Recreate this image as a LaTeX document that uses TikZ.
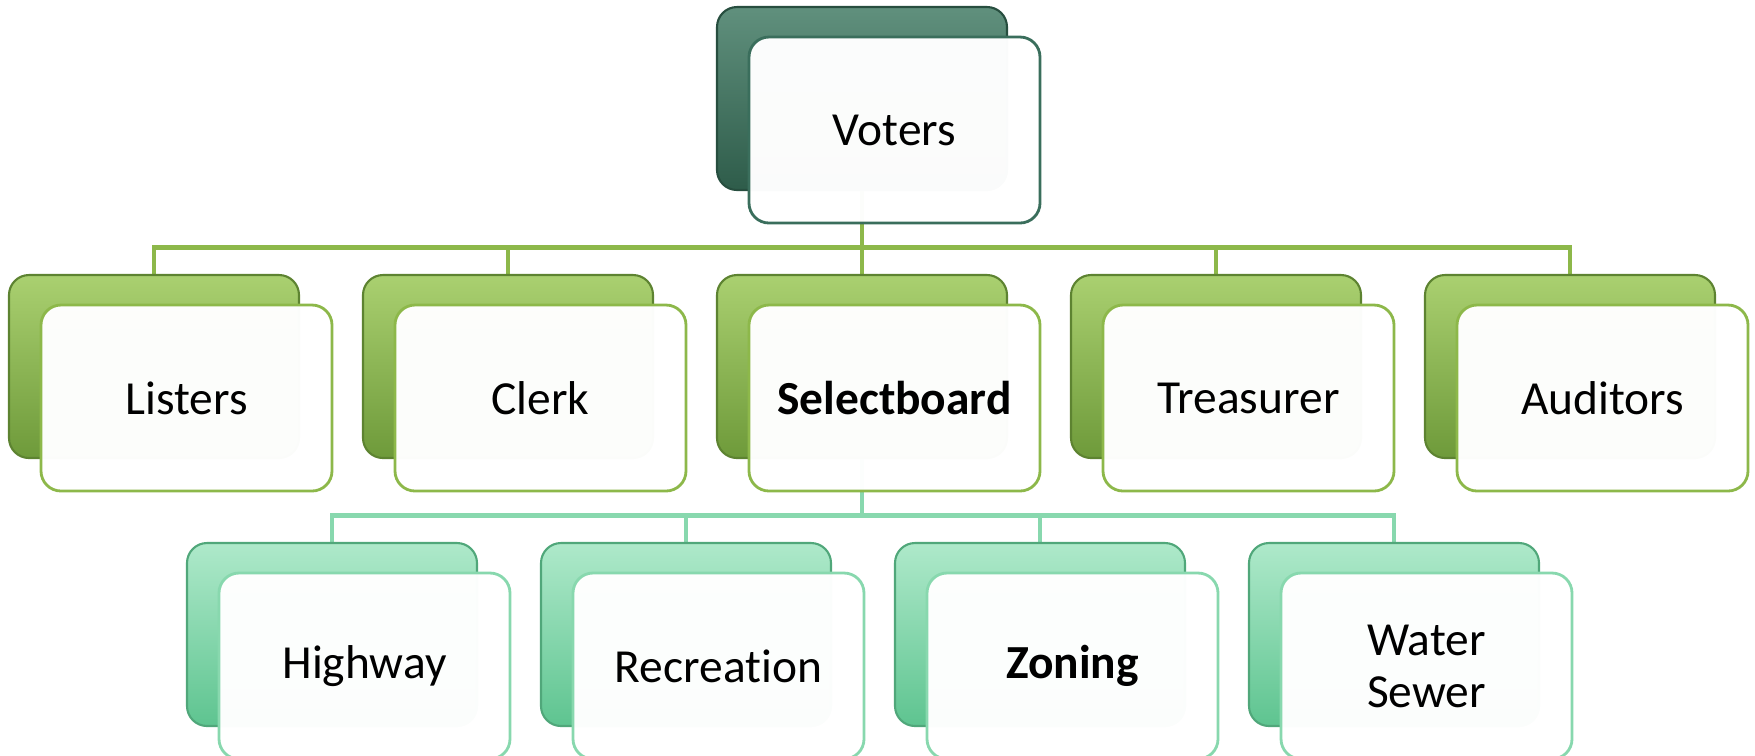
\documentclass[tikz,border=0pt]{standalone}
\usepackage{fontspec}
\setmainfont{Carlito}[Ligatures=NoCommon]
\usetikzlibrary{positioning,backgrounds}
\definecolor{voterdark}{RGB}{46,92,74}
\definecolor{voterlight}{RGB}{96,144,125}
\definecolor{voterline}{RGB}{58,110,92}
\definecolor{officedark}{RGB}{110,154,58}
\definecolor{officelight}{RGB}{170,208,112}
\definecolor{officeline}{RGB}{141,184,74}
\definecolor{commdark}{RGB}{94,196,144}
\definecolor{commlight}{RGB}{174,233,202}
\definecolor{commline}{RGB}{136,216,174}

\begin{document}
\begin{tikzpicture}[
    back/.style={rectangle, rounded corners=0.2cm, minimum width=2.9cm, minimum height=1.83cm, inner sep=0pt, outer sep=0pt, line width=0.6pt},
    voterback/.style={back, top color=voterlight, bottom color=voterdark, draw=voterdark!85!black},
    officeback/.style={back, top color=officelight, bottom color=officedark, draw=officedark!85!black},
    commback/.style={back, top color=commlight, bottom color=commdark, draw=commdark!85!black},
    front/.style={rectangle, rounded corners=0.2cm, fill=white, fill opacity=0.98, text opacity=1, line width=0.8pt, minimum width=2.91cm, minimum height=1.86cm, inner sep=2pt, outer sep=0pt, align=center, anchor=north west, font=\fontsize{13.5}{14.8}\selectfont},
    link/.style={line width=1.4pt}
]
    \useasboundingbox (0,0) rectangle (17.55,-7.55);

    % Voters
    \node[voterback] (b-vot) at (8.62,-0.985) {};

    % Offices
    \node[officeback] (b-lis) at (1.54,-3.665) {};
    \node[officeback, right=0.64cm of b-lis] (b-clk) {};
    \node[officeback, right=0.64cm of b-clk] (b-sel) {};
    \node[officeback, right=0.64cm of b-sel] (b-trs) {};
    \node[officeback, right=0.64cm of b-trs] (b-aud) {};

    % Committees
    \node[commback] (b-hwy) at (3.32,-6.345) {};
    \node[commback, right=0.64cm of b-hwy] (b-rec) {};
    \node[commback, right=0.64cm of b-rec] (b-zon) {};
    \node[commback, right=0.64cm of b-zon] (b-wat) {};

    % Connectors
    \begin{scope}[on background layer]
        \foreach \n in {lis,clk,sel,trs,aud}
            \draw[link, officeline] (b-vot.south) -- ++(0,-0.575) -| (b-\n.north);
        \foreach \n in {hwy,rec,zon,wat}
            \draw[link, commline] (b-sel.south) -- ++(0,-0.575) -| (b-\n.north);
    \end{scope}

    % Front cards
    \node[front, draw=voterline] (vot) at ([shift={(0.32,-0.30)}]b-vot.north west) {Voters};

    \node[front, draw=officeline] (lis) at ([shift={(0.32,-0.30)}]b-lis.north west) {Listers};
    \node[front, draw=officeline] (clk) at ([shift={(0.32,-0.30)}]b-clk.north west) {Clerk};
    \node[front, draw=officeline] (sel) at ([shift={(0.32,-0.30)}]b-sel.north west) {\textbf{Selectboard}};
    \node[front, draw=officeline] (trs) at ([shift={(0.32,-0.30)}]b-trs.north west) {Treasurer};
    \node[front, draw=officeline] (aud) at ([shift={(0.32,-0.30)}]b-aud.north west) {Auditors};

    \node[front, draw=commline] (hwy) at ([shift={(0.32,-0.30)}]b-hwy.north west) {Highway};
    \node[front, draw=commline] (rec) at ([shift={(0.32,-0.30)}]b-rec.north west) {Recreation};
    \node[front, draw=commline] (zon) at ([shift={(0.32,-0.30)}]b-zon.north west) {\textbf{Zoning}};
    \node[front, draw=commline] (wat) at ([shift={(0.32,-0.30)}]b-wat.north west) {Water\\Sewer};

\end{tikzpicture}
\end{document}
